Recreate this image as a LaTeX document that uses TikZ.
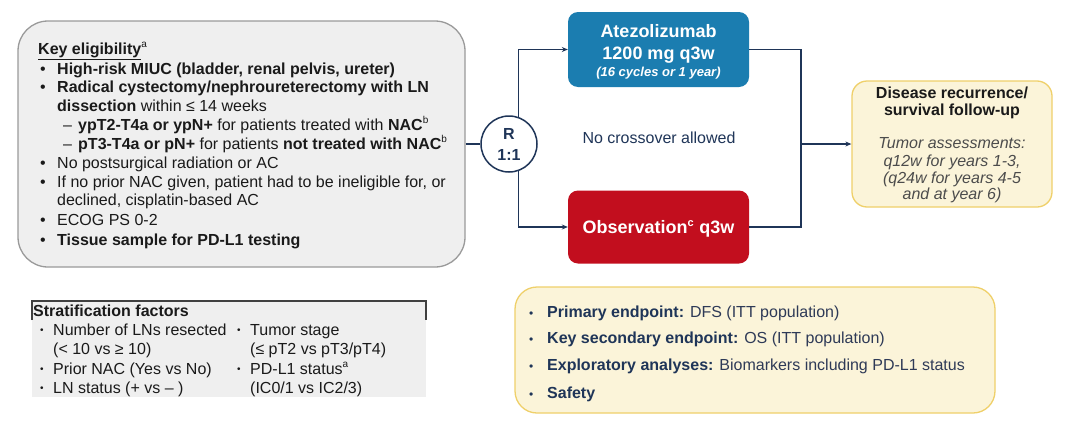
\documentclass[tikz,border=0pt]{standalone}
\usepackage{fontspec}
\setmainfont{Liberation Sans}
\usetikzlibrary{arrows.meta}
\definecolor{navy}{HTML}{1F3558}
\definecolor{abox}{HTML}{1B7DB0}
\definecolor{rbox}{HTML}{C20E1E}
\definecolor{ylfill}{HTML}{FBF4D9}
\definecolor{ylline}{HTML}{EFD06A}
\definecolor{gyfill}{HTML}{EFEFEF}
\definecolor{gyline}{HTML}{9A9A9A}
\definecolor{txt}{HTML}{1A1A1A}
\definecolor{slate}{HTML}{2E3A57}
\newcommand{\smbul}{\raisebox{1.8pt}{\fontsize{10}{10}\selectfont •}}
\begin{document}
\begin{tikzpicture}[x=1pt,y=-1pt,
  t/.style={anchor=base west,inner sep=0pt,text=txt,font=\fontsize{16}{19}\selectfont},
  tc/.style={anchor=base,inner sep=0pt,font=\fontsize{16}{19}\selectfont},
  conn/.style={draw=navy,line width=1.5pt},
  arr/.style={conn,-{Stealth[length=6pt,width=5pt]}}]
\useasboundingbox (0,0) rectangle (1082,426);
\fill[white] (0,0) rectangle (1082,426);
% left eligibility box
\node[draw=gyline,line width=1.3pt,fill=gyfill,rounded corners=30pt,minimum width=447pt,minimum height=246pt,inner sep=0pt] (elig) at (241.5,144) {};
\node[t] (k0) at (38,54) {\textbf{\underline{Key eligibility}}\textsuperscript{\fontsize{10}{10}\selectfont a}};
\node[t] (b1) at (40,74) {•};
\node[t] (l1) at (57,74) {\textbf{High-risk MIUC (bladder, renal pelvis, ureter)}};
\node[t] (b2) at (40,92) {•};
\node[t] (l2) at (57,92) {\textbf{Radical cystectomy/nephroureterectomy with LN}};
\node[t] (l3) at (57,111) {\textbf{dissection} within ≤ 14 weeks};
\node[t] (d1) at (63,130) {–};
\node[t] (l4) at (78,130) {\textbf{ypT2-T4a or ypN+} for patients treated with \textbf{NAC}\textsuperscript{\fontsize{10}{10}\selectfont b}};
\node[t] (d2) at (63,149) {–};
\node[t] (l5) at (78,149) {\textbf{pT3-T4a or pN+} for patients \textbf{not treated with NAC}\textsuperscript{\fontsize{10}{10}\selectfont b}};
\node[t] (b3) at (40,168) {•};
\node[t] (l6) at (57,168) {No postsurgical radiation or AC};
\node[t] (b4) at (40,187) {•};
\node[t] (l7) at (57,187) {If no prior NAC given, patient had to be ineligible for, or};
\node[t] (l8) at (57,205) {declined, cisplatin-based AC};
\node[t] (b5) at (40,225) {•};
\node[t] (l9) at (57,225) {ECOG PS 0-2};
\node[t] (b6) at (40,245) {•};
\node[t] (l10) at (57,245) {\textbf{Tissue sample for PD-L1 testing}};
% stratification
\fill[gyfill] (32,301) rectangle (426,397);
\draw[draw=black!75,line width=1.2pt] (32,320) -- (32,301) -- (426,301) -- (426,320);
\node[t] (s0) at (33,316) {\textbf{Stratification factors}};
\node[t] (sb1) at (40,335) {\smbul};
\node[t] (s1) at (53,335) {Number of LNs resected};
\node[t] (s2) at (53,354) {(< 10 vs ≥ 10)};
\node[t] (sb2) at (40,374) {\smbul};
\node[t] (s3) at (53,374) {Prior NAC (Yes vs No)};
\node[t] (sb3) at (40,393) {\smbul};
\node[t] (s4) at (53,393) {LN status (+ vs – )};
\node[t] (sb4) at (237,335) {\smbul};
\node[t] (s5) at (250,335) {Tumor stage};
\node[t] (s6) at (250,354) {(≤ pT2 vs pT3/pT4)};
\node[t] (sb5) at (237,374) {\smbul};
\node[t] (s7) at (250,374) {PD-L1 status\textsuperscript{\fontsize{10}{10}\selectfont a}};
\node[t] (s8) at (250,393) {(IC0/1 vs IC2/3)};
% randomisation
\node[draw=navy,line width=1.5pt,fill=white,circle,minimum size=56pt,inner sep=0pt] (rand) at (509,144) {};
\node[tc,text=navy] (r1) at (509,139) {\textbf{R}};
\node[tc,text=navy] (r2) at (509,160) {\textbf{1:1}};
% arms
\node[fill=abox,rounded corners=10pt,minimum width=181pt,minimum height=75pt,inner sep=0pt] (atezo) at (658.5,49.5) {};
\node[tc,text=white,font=\fontsize{18}{20}\selectfont\bfseries] (a1) at (658.5,37) {Atezolizumab};
\node[tc,text=white,font=\fontsize{18}{20}\selectfont\bfseries] (a2) at (658.5,59) {1200 mg q3w};
\node[tc,text=white,font=\fontsize{13}{15}\selectfont\bfseries\itshape] (a3) at (658.5,76) {(16 cycles or 1 year)};
\node[fill=rbox,rounded corners=10pt,minimum width=181pt,minimum height=73pt,inner sep=0pt] (obs) at (658.5,227) {};
\node[tc,text=white,font=\fontsize{18}{20}\selectfont\bfseries] (o1) at (658.5,233) {Observation\textsuperscript{\fontsize{11}{11}\selectfont c} q3w};
\node[tc,text=navy] (nc) at (659,143) {No crossover allowed};
% follow-up
\node[draw=ylline,line width=1.3pt,fill=ylfill,rounded corners=15pt,minimum width=200pt,minimum height=126pt,inner sep=0pt] (fu) at (952,144) {};
\node[tc,text=txt] (f1) at (952,98) {\textbf{Disease recurrence/}};
\node[tc,text=txt] (f2) at (952,115) {\textbf{survival follow-up}};
\node[tc,text=black!70,font=\fontsize{16}{19}\selectfont\itshape] (f3) at (952,148) {Tumor assessments:};
\node[tc,text=black!70,font=\fontsize{16}{19}\selectfont\itshape] (f4) at (952,166) {q12w for years 1-3,};
\node[tc,text=black!70,font=\fontsize{16}{19}\selectfont\itshape] (f5) at (952,183) {(q24w for years 4-5};
\node[tc,text=black!70,font=\fontsize{16}{19}\selectfont\itshape] (f6) at (952,199) {and at year 6)};
% endpoints
\node[draw=ylline,line width=1.3pt,fill=ylfill,rounded corners=22pt,minimum width=480pt,minimum height=126pt,inner sep=0pt] (ep) at (755,350) {};
\node[t,text=navy] (eb1) at (529,317) {\fontsize{12}{12}\selectfont •};
\node[t,text=slate] (e1) at (547,317) {\textcolor{navy}{\textbf{Primary endpoint:}} DFS (ITT population)};
\node[t,text=navy] (eb2) at (529,343) {\fontsize{12}{12}\selectfont •};
\node[t,text=slate] (e2) at (547,343) {\textcolor{navy}{\textbf{Key secondary endpoint:}} OS (ITT population)};
\node[t,text=navy] (eb3) at (529,370) {\fontsize{12}{12}\selectfont •};
\node[t,text=slate] (e3) at (547,370) {\textcolor{navy}{\textbf{Exploratory analyses:}} Biomarkers including PD-L1 status};
\node[t,text=navy] (eb4) at (529,398) {\fontsize{12}{12}\selectfont •};
\node[t,text=navy] (e4) at (547,398) {\textbf{Safety}};
% connectors
\coordinate (rj) at (801,144);
\draw[conn] (elig.east) -- (rand.west);
\draw[arr] (rand.71) |- (atezo.west);
\draw[arr] (rand.-71) |- (obs.west);
\draw[conn] (atezo.east) -| (rj);
\draw[conn] (obs.east) -| (rj);
\draw[arr] (rj) -- (fu.west);
\end{tikzpicture}
\end{document}
